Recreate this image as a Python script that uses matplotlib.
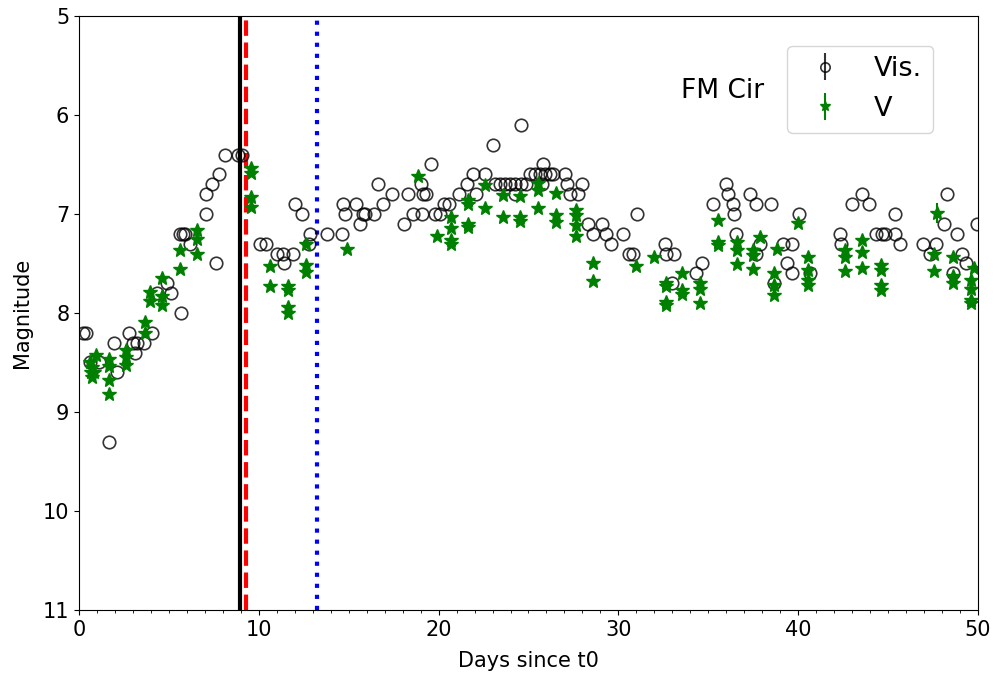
import matplotlib
matplotlib.use('Agg')
import matplotlib.pyplot as plt
from matplotlib.ticker import MultipleLocator

# visual estimates (Vis.)
vis_t = [0.2, 0.4, 0.6, 1.1, 1.67, 1.95, 2.1, 2.8, 3.0, 3.13, 3.25, 3.6, 4.06, 4.34, 4.9, 5.1,
         5.66, 5.6, 5.78, 5.9, 6.15, 7.05, 7.08, 7.4, 7.64, 7.77, 8.1, 8.84, 9.07, 10.05, 10.38,
         11.0, 11.36, 11.88, 11.4, 12.0, 12.4, 12.85, 12.8, 13.8, 14.6, 14.67, 14.8, 15.4, 15.63,
         15.78, 15.9, 16.4, 16.65, 16.9, 17.4, 18.08, 18.3, 18.6, 19.0, 19.06, 19.15, 19.3, 19.6,
         19.8, 20.08, 20.3, 20.6, 21.15, 21.56, 21.93, 22.08, 22.58, 23.0, 23.14, 23.4, 23.7,
         23.97, 24.25, 24.25, 24.57, 24.6, 24.86, 25.08, 25.36, 25.64, 25.78, 25.73, 25.92, 26.2,
         26.38, 27.03, 27.12, 27.3, 27.77, 27.96, 28.3, 28.6, 29.1, 29.3, 29.57, 30.27, 30.6,
         30.8, 31.05, 32.6, 32.65, 32.96, 33.1, 34.3, 34.63, 35.28, 35.98, 36.1, 36.36, 36.45,
         36.54, 37.32, 37.65, 37.65, 37.88, 38.5, 38.65, 39.13, 39.35, 39.63, 39.63, 40.06,
         40.66, 42.3, 42.4, 42.97, 43.53, 43.95, 44.33, 44.64, 44.83, 45.38, 45.38, 45.66,
         46.92, 47.33, 47.66, 48.1, 48.29, 48.63, 48.85, 49.1, 49.33, 49.93]
vis_mag = [8.2, 8.2, 8.5, 8.5, 9.3, 8.3, 8.6, 8.2, 8.3, 8.4, 8.3, 8.3, 8.2, 7.8, 7.7, 7.8,
           8.0, 7.2, 7.2, 7.2, 7.3, 6.8, 7.0, 6.7, 7.5, 6.6, 6.4, 6.4, 6.4, 7.3, 7.3,
           7.4, 7.4, 7.4, 7.5, 6.9, 7.0, 7.2, 7.3, 7.2, 7.2, 6.9, 7.0, 6.9, 7.1,
           7.0, 7.0, 7.0, 6.7, 6.9, 6.8, 7.1, 6.8, 7.0, 6.7, 7.0, 6.8, 6.8, 6.5,
           7.0, 7.0, 6.9, 6.9, 6.8, 6.7, 6.6, 6.8, 6.6, 6.3, 6.7, 6.7, 6.7,
           6.7, 6.7, 6.8, 6.1, 6.7, 6.7, 6.6, 6.6, 6.6, 6.5, 6.7, 6.6, 6.6,
           6.6, 6.6, 6.7, 6.8, 6.8, 6.7, 7.1, 7.2, 7.1, 7.2, 7.3, 7.2, 7.4,
           7.4, 7.0, 7.3, 7.4, 7.7, 7.4, 7.6, 7.5, 6.9, 6.7, 6.8, 6.9, 7.0,
           7.2, 6.8, 6.9, 7.4, 7.3, 6.9, 7.7, 7.3, 7.5, 7.3, 7.6, 7.0,
           7.6, 7.2, 7.3, 6.9, 6.8, 6.9, 7.2, 7.2, 7.2, 7.0, 7.2, 7.3,
           7.3, 7.4, 7.3, 7.1, 6.8, 7.6, 7.2, 7.4, 7.5, 7.1]
vis_err = [0.0] * len(vis_t)

# V band
v_t = [0.6, 0.65, 0.7, 0.75, 0.83, 0.96, 1.67, 1.67, 1.67, 1.67, 2.63, 2.63, 2.63, 3.65, 3.65,
       3.93, 3.93, 4.62, 4.62, 4.62, 5.6, 5.6, 6.58, 6.58, 6.58, 9.58, 9.58, 9.58, 9.58,
       10.6, 10.6, 11.6, 11.6, 11.6, 11.6, 12.62, 12.62, 12.62, 14.9, 18.87, 19.93,
       20.69, 20.69, 20.69, 20.69, 21.65, 21.65, 21.65, 21.65, 22.58, 22.58, 23.56, 23.56,
       24.53, 24.53, 24.53, 25.55, 25.55, 25.55, 26.53, 26.53, 26.53, 27.64, 27.64, 27.64,
       27.64, 28.57, 28.57, 30.98, 32.0, 32.65, 32.65, 32.65, 32.65, 33.52, 33.52, 33.52,
       34.54, 34.54, 34.54, 35.56, 35.56, 35.56, 36.6, 36.6, 36.6, 37.5, 37.5, 37.5, 37.9,
       38.65, 38.65, 38.65, 38.8, 40.0, 40.56, 40.56, 40.56, 40.56, 42.6, 42.6, 42.6,
       43.53, 43.53, 43.53, 44.59, 44.59, 44.59, 44.59, 47.55, 47.55, 47.73, 48.6, 48.6,
       48.6, 49.6, 49.6, 49.6, 49.6, 49.8]
v_mag = [8.5, 8.6, 8.65, 8.55, 8.6, 8.42, 8.47, 8.54, 8.68, 8.82, 8.37, 8.44, 8.53, 8.09, 8.2,
         7.79, 7.88, 7.65, 7.83, 7.92, 7.36, 7.56, 7.16, 7.25, 7.4, 6.54, 6.59, 6.83, 6.93,
         7.53, 7.73, 7.73, 7.77, 7.94, 8.0, 7.3, 7.52, 7.59, 7.35, 6.62, 7.22,
         7.03, 7.14, 7.26, 7.3, 6.86, 6.9, 7.1, 7.13, 6.71, 6.94, 6.81, 7.03,
         6.82, 7.03, 7.07, 6.69, 6.76, 6.94, 6.79, 7.01, 7.08, 6.96, 7.01, 7.11,
         7.22, 7.5, 7.68, 7.53, 7.44, 7.7, 7.73, 7.89, 7.92, 7.6, 7.77, 7.81,
         7.7, 7.76, 7.9, 7.06, 7.28, 7.31, 7.28, 7.36, 7.51, 7.36, 7.41, 7.56, 7.23,
         7.6, 7.72, 7.82, 7.35, 7.09, 7.44, 7.57, 7.67, 7.72, 7.36, 7.43, 7.58,
         7.26, 7.38, 7.55, 7.52, 7.57, 7.72, 7.77, 7.4, 7.58, 6.99, 7.43, 7.63,
         7.7, 7.67, 7.76, 7.87, 7.9, 7.55]
v_err = [0.1 if t == 47.73 else 0.0 for t in v_t]

t_black = 8.95
t_red = 9.3
t_blue = 13.25

fig = plt.figure(figsize=(9.95, 6.79), dpi=100)
ax = fig.add_axes([0.0794, 0.1016, 0.9035, 0.875])

ax.errorbar(vis_t, vis_mag, yerr=vis_err, fmt='o', mfc='none', mec='black', ecolor='black',
            ms=9, mew=1.2, alpha=0.8, label='Vis.')
ax.errorbar(v_t, v_mag, yerr=v_err, fmt='*', color='green', ms=10, label='V')

ax.axvline(t_black, color='black', lw=3)
ax.axvline(t_red, color='red', lw=3, ls='--')
ax.axvline(t_blue, color='blue', lw=3, ls=':')

ax.set_xlim(0, 50)
ax.set_ylim(11, 5)
ax.xaxis.set_minor_locator(MultipleLocator(1))
ax.tick_params(labelsize=15)
ax.set_xlabel('Days since t0', fontsize=15, labelpad=8)
ax.set_ylabel('Magnitude', fontsize=15, labelpad=8)

ax.text(0.67, 0.873, 'FM Cir', transform=ax.transAxes, fontsize=19, va='center')
ax.legend(loc='upper right', bbox_to_anchor=(0.95, 0.95), borderaxespad=0,
          fontsize=19.5, markerscale=0.75)

plt.savefig('out.png')
